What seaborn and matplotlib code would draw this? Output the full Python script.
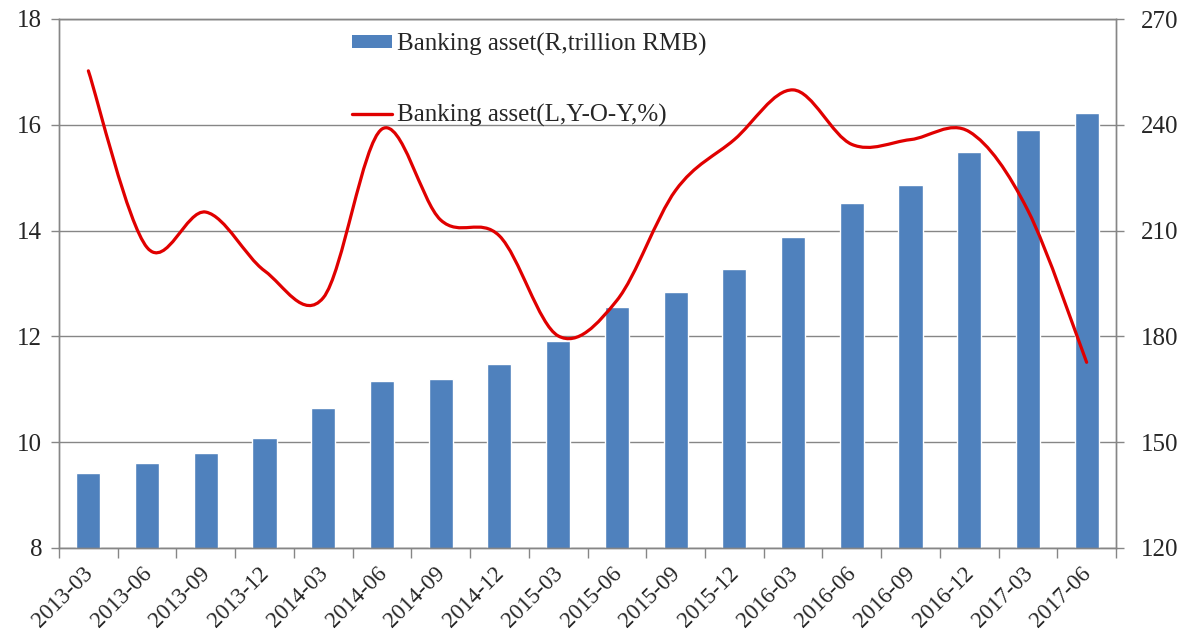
import numpy as np
import pandas as pd
import matplotlib
matplotlib.use("Agg")
import matplotlib.pyplot as plt
import seaborn as sns
from matplotlib.path import Path
from matplotlib.patches import PathPatch, Patch
from matplotlib.lines import Line2D
from matplotlib.transforms import ScaledTranslation

quarters = ["2013-03", "2013-06", "2013-09", "2013-12", "2014-03", "2014-06",
            "2014-09", "2014-12", "2015-03", "2015-06", "2015-09", "2015-12",
            "2016-03", "2016-06", "2016-09", "2016-12", "2017-03", "2017-06"]
assets = [141.2, 144.0, 146.9, 151.1, 159.6, 167.3, 167.8, 172.1, 178.6,
          188.3, 192.7, 199.1, 208.2, 217.8, 222.9, 232.2, 238.6, 243.3]
yoy = [17.02, 13.68, 14.35, 13.24, 12.73, 15.92, 14.2, 13.9, 12.01,
       12.68, 14.76, 15.72, 16.66, 15.63, 15.72, 15.87, 14.38, 11.51]
bar_label = "Banking asset(R,trillion RMB)"
line_label = "Banking asset(L,Y-O-Y,%)"

sns.set_style("white")
plt.rcParams['font.family'] = ['Liberation Serif', 'DejaVu Serif']

GRID = '#868686'
BLUE = '#4F81BD'
RED = '#E00000'
FS = 18
XFS = 16.5

fig = plt.figure(figsize=(11.77, 6.4), dpi=100)
ax = fig.add_axes([59 / 1177, 1 - 548 / 640, (1116 - 59) / 1177, (548 - 19) / 640])

df = pd.DataFrame({'quarter': quarters, 'asset': assets})
sns.barplot(data=df, x='quarter', y='asset', color=BLUE, saturation=1,
            width=0.41, ax=ax)

ax2 = ax.twinx()

ax.set_ylim(120, 270)
ax.set_xlim(-0.5, len(quarters) - 0.5)
ax.set_yticks(range(120, 271, 30))
ax.yaxis.tick_right()
ax.yaxis.set_label_position('right')
ax.grid(axis='y', color=GRID, lw=1)
ax.grid(axis='x', visible=False)
ax.set_axisbelow(True)
ax.set_xlabel('')
ax.set_ylabel('')
ax.tick_params(axis='y', which='major', left=False, labelleft=False,
               right=True, labelright=True, length=6, width=1,
               color=GRID, labelsize=FS, pad=12)
ax.tick_params(axis='x', which='major', length=0, labelsize=XFS, pad=11)
ax.set_xticks(np.arange(-0.5, len(quarters), 1), minor=True)
ax.tick_params(axis='x', which='minor', bottom=True, length=7, width=1, color=GRID)
shift = ScaledTranslation(-6 / 100, 0, fig.dpi_scale_trans)
for lab in ax.get_xticklabels():
    lab.set_rotation(45)
    lab.set_ha('right')
    lab.set_rotation_mode('anchor')
    lab.set_transform(lab.get_transform() + shift)
for s in ax.spines.values():
    s.set_color(GRID)
    s.set_linewidth(1)

ax2.set_ylim(8, 18)
ax2.set_yticks(range(8, 19, 2))
ax2.yaxis.tick_left()
ax2.tick_params(axis='y', left=True, labelleft=True, right=False,
                labelright=False, length=6, width=1,
                color=GRID, labelsize=FS, pad=6)
ax2.grid(False)
for s in ax2.spines.values():
    s.set_color(GRID)
    s.set_linewidth(1)

# Smooth (Excel-like) curve through the data points
xs = np.arange(len(yoy), dtype=float)
ys = np.array(yoy, dtype=float)
n = len(xs)
verts = [(xs[0], ys[0])]
codes = [Path.MOVETO]
for i in range(n - 1):
    p0 = i - 1 if i > 0 else 0
    p3 = i + 2 if i + 2 < n else n - 1
    c1 = (xs[i] + (xs[i + 1] - xs[p0]) / 6, ys[i] + (ys[i + 1] - ys[p0]) / 6)
    c2 = (xs[i + 1] - (xs[p3] - xs[i]) / 6, ys[i + 1] - (ys[p3] - ys[i]) / 6)
    verts += [c1, c2, (xs[i + 1], ys[i + 1])]
    codes += [Path.CURVE4] * 3
ax2.add_patch(PathPatch(Path(verts, codes), fill=False, edgecolor=RED,
                        lw=2.3, capstyle='round', joinstyle='round'))

handles = [Patch(facecolor=BLUE, edgecolor='none'),
           Line2D([0], [0], color=RED, lw=2.4)]
fig.legend(handles, [bar_label, line_label], loc='upper left',
           bbox_to_anchor=(352 / 1177, 1 - 33 / 640), frameon=False,
           fontsize=FS, handlelength=1.6, handleheight=0.42,
           handletextpad=0.2, labelspacing=1.9, borderpad=0, borderaxespad=0)

fig.savefig('out.png', dpi=100)
